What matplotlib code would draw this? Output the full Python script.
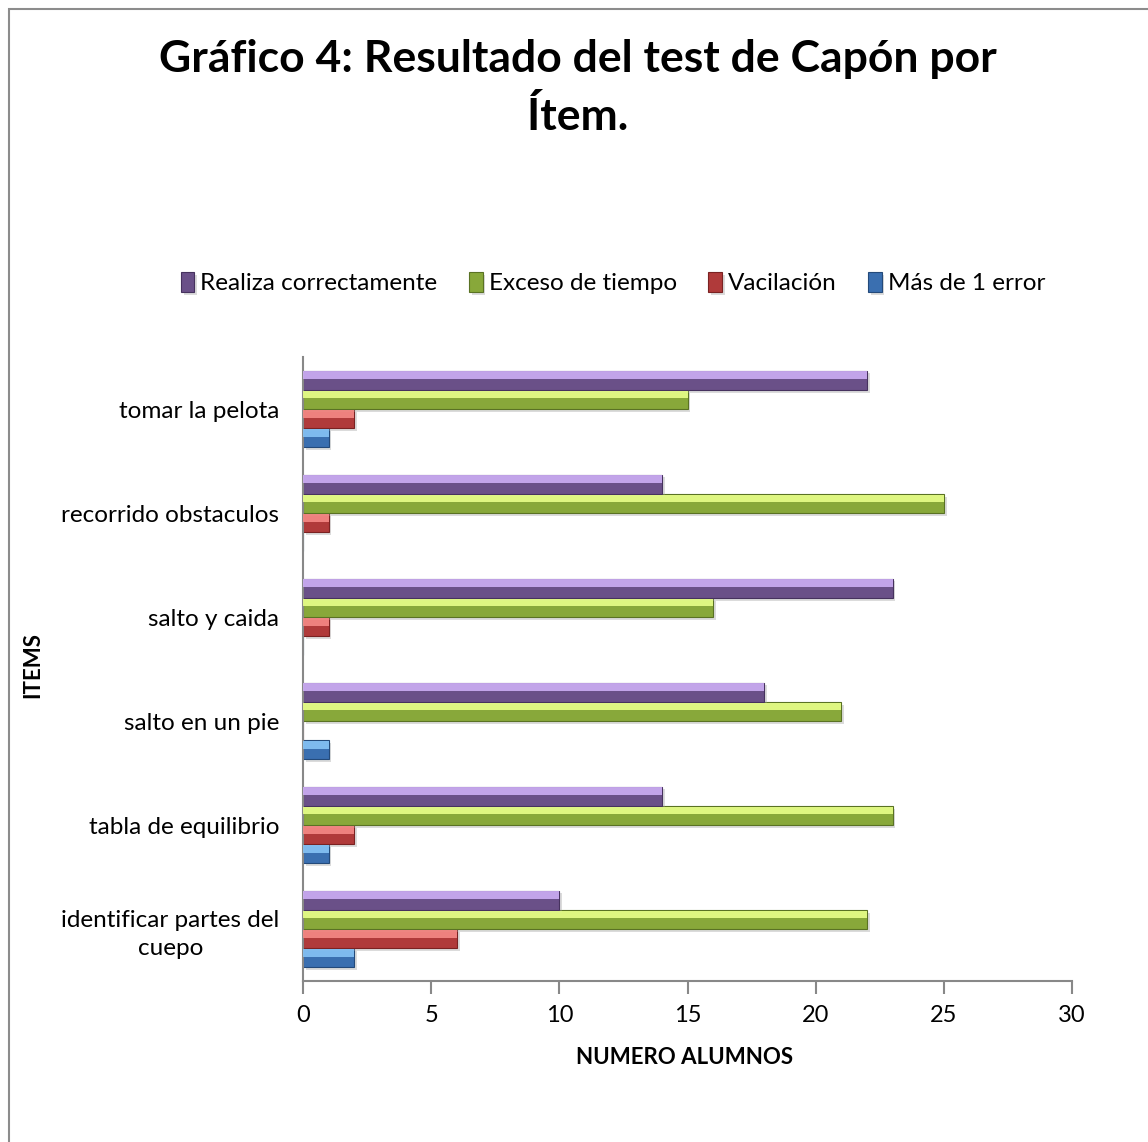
import numpy as np
import matplotlib.pyplot as plt
from matplotlib import patheffects as pe
from matplotlib.patches import Rectangle

plt.rcParams['font.family'] = ['Lato', 'DejaVu Sans']

# Items, listed bottom to top as they appear on the axis
items = ["identificar partes del\ncuepo", "tabla de equilibrio", "salto en un pie",
         "salto y caida", "recorrido obstaculos", "tomar la pelota"]

mas_de_1_error = [2, 1, 1, 0, 0, 1]
vacilacion = [6, 2, 0, 1, 1, 2]
exceso_tiempo = [22, 23, 21, 16, 25, 15]
realiza_bien = [10, 14, 18, 23, 14, 22]

series = [
    ("Más de 1 error", mas_de_1_error, "#3A6FB0", "#86C3F5", "#244A7A"),
    ("Vacilación", vacilacion, "#B03A3A", "#F58A86", "#7A2222"),
    ("Exceso de tiempo", exceso_tiempo, "#88A83A", "#E8FF8A", "#5A7224"),
    ("Realiza correctamente", realiza_bien, "#6A5088", "#CDAEF5", "#46325E"),
]

fig = plt.figure(figsize=(11.48, 11.42), dpi=100)
ax = fig.add_axes([303 / 1148, 1 - 981 / 1142, (1072 - 303) / 1148, (981 - 357) / 1142])

y = np.arange(len(items))
h = 0.185
shadow = [pe.SimplePatchShadow(offset=(2, -2), shadow_rgbFace="#999999", alpha=0.35), pe.Normal()]
handles = {}
for i, (name, vals, body, light, edge) in enumerate(series):
    pos = y + (i - 1.5) * h
    bars = ax.barh(pos, vals, height=h, color=body, edgecolor=edge, linewidth=0.8, zorder=2)
    for b in bars:
        b.set_path_effects(shadow)
    # lighter strip across the upper part of each bar
    ax.barh(pos + h * 0.25, vals, height=h * 0.4, color=light, linewidth=0, zorder=3, alpha=0.9)
    handles[name] = bars

ax.set_xlim(0, 30)
ax.set_ylim(-0.5, len(items) - 0.5)
ax.set_xticks(np.arange(0, 31, 5))
ax.set_yticks(y)
ax.set_yticklabels(items, multialignment="center", linespacing=1.4)
ax.tick_params(axis="y", length=0, pad=17, labelsize=17.5)
ax.tick_params(axis="x", length=9, width=1.5, color="#888888", pad=8, labelsize=17)
for s in ["top", "right"]:
    ax.spines[s].set_visible(False)
for s in ["left", "bottom"]:
    ax.spines[s].set_color("#888888")
    ax.spines[s].set_linewidth(1.5)

fig.text(578 / 1148, 1 - 88 / 1142, "Gráfico 4: Resultado del test de Capón por\nÍtem.",
         ha="center", va="center", fontsize=32, fontweight="bold", linespacing=1.5)
fig.text(33 / 1148, 1 - 665 / 1142, "ITEMS", rotation=90, ha="center", va="center",
         fontsize=16, fontweight="bold")
fig.text(685 / 1148, 1 - 1058 / 1142, "NUMERO ALUMNOS", ha="center", va="center",
         fontsize=16, fontweight="bold")

order = ["Realiza correctamente", "Exceso de tiempo", "Vacilación", "Más de 1 error"]
fig.legend([handles[n] for n in order], order, loc="center",
           bbox_to_anchor=(613 / 1148, 1 - 283 / 1142), ncol=4, frameon=False,
           fontsize=17.5, handlelength=0.55, handleheight=0.9, handletextpad=0.25,
           columnspacing=1.3)

# chart frame
fig.patches.append(Rectangle((9 / 1148, -0.2), 1.2, 1.2 - 9 / 1142, transform=fig.transFigure,
                             fill=False, edgecolor="#8C8C8C", linewidth=1.5))

fig.savefig("out.png", dpi=100)
